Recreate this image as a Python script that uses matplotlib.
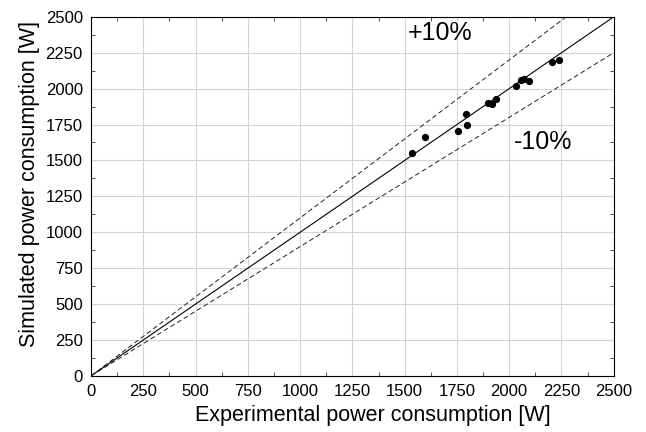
import matplotlib.pyplot as plt
from matplotlib.ticker import MultipleLocator

plt.rcParams['font.family'] = ['Liberation Sans', 'DejaVu Sans']

# measured points
experimental = [1534, 1597, 1754, 1793, 1800, 1900, 1920, 1937, 2031, 2058, 2070, 2094, 2207, 2238]
simulated = [1549, 1660, 1704, 1822, 1745, 1898, 1890, 1926, 2019, 2062, 2068, 2053, 2185, 2199]

ref_line = [0, 2500]

fig = plt.figure(figsize=(6.46, 4.32), dpi=100)
ax = fig.add_axes([0.141, 0.130, 0.809, 0.831])

ax.plot(ref_line, ref_line, color='black', lw=0.8)
ax.plot(ref_line, [v * 1.1 for v in ref_line], color='#222222', lw=0.7, ls=(0, (5, 3)))
ax.plot(ref_line, [v * 0.9 for v in ref_line], color='#222222', lw=0.7, ls=(0, (5, 3)))
ax.plot(experimental, simulated, 'o', color='black', ms=4.2)

ax.text(1668, 2385, '+10%', fontsize=18, ha='center', va='center')
ax.text(2160, 1630, '-10%', fontsize=18, ha='center', va='center')

ax.set_xlim(0, 2500)
ax.set_ylim(0, 2500)
ax.xaxis.set_major_locator(MultipleLocator(250))
ax.yaxis.set_major_locator(MultipleLocator(250))
ax.xaxis.set_minor_locator(MultipleLocator(125))
ax.yaxis.set_minor_locator(MultipleLocator(125))
ax.grid(True, which='major', color='#d4d4d4', lw=0.8)
ax.set_axisbelow(True)
ax.tick_params(which='major', length=0, labelsize=12, pad=6)
ax.tick_params(which='minor', direction='in', length=3, top=True, right=True, color='#333333')

ax.set_xlabel('Experimental power consumption [W]', fontsize=15.5)
ax.set_ylabel('Simulated power consumption [W]', fontsize=15.5)
# labels sit a little off-centre in the original
ax.xaxis.label.set_x(0.539)
ax.yaxis.label.set_y(0.535)

plt.savefig('out.png', dpi=100)
